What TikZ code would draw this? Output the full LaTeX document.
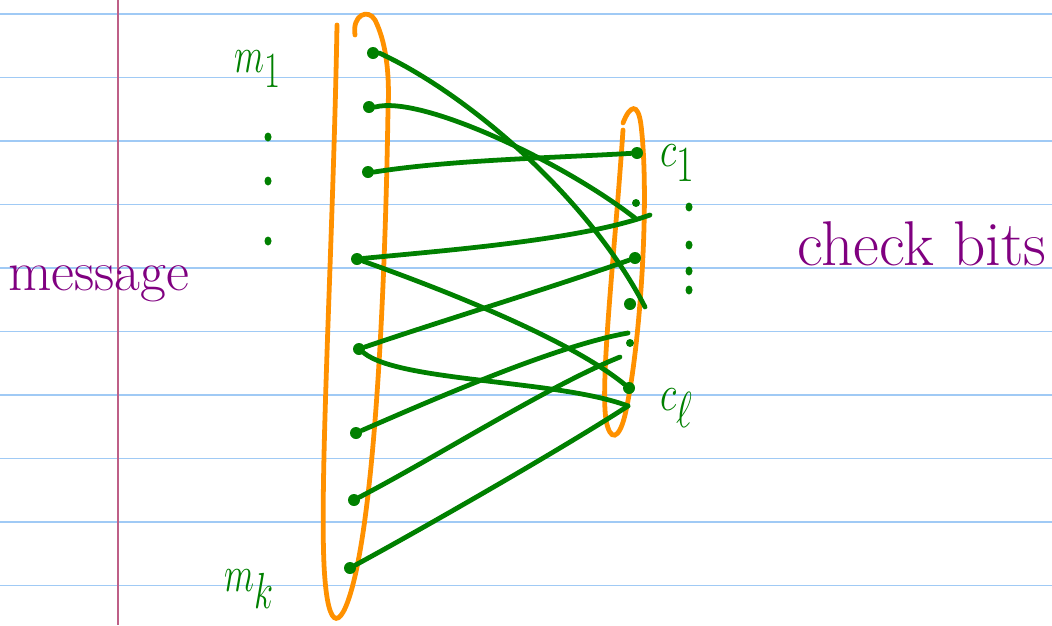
\documentclass[tikz,border=0pt]{standalone}
\usepackage{tikz}
\usetikzlibrary{positioning,calc}
\definecolor{pen}{RGB}{0,128,0}
\definecolor{ringorange}{RGB}{255,145,0}
\definecolor{word}{RGB}{128,0,128}
\definecolor{paperrule}{RGB}{160,202,245}
\definecolor{margin}{RGB}{190,95,135}

\begin{document}
\begin{tikzpicture}[
  x=0.025cm, y=-0.025cm,
  bitdot/.style={circle, fill=pen, inner sep=0pt, minimum size=0.3cm},
  tinydot/.style={circle, fill=pen, inner sep=0pt, minimum size=0.2cm},
  wire/.style={pen, line width=3.4pt, line cap=round},
  ring/.style={ringorange, line width=3.4pt, line cap=round},
  lbl/.style={text=pen, font=\fontsize{40}{44}\selectfont, inner sep=0pt},
  hand/.style={text=word, font=\fontsize{40}{44}\selectfont, inner sep=0pt},
]
\useasboundingbox (0,0) rectangle (1052,625);

% ---- ruled paper ----
\foreach \y in {14,77.5,141,204.5,268,331.5,395,458.5,522,585.5}
  \draw[paperrule, line width=1.3pt] (0,\y) -- (1052,\y);
\draw[margin, line width=1pt] (118,0) -- (118,625);

% ---- the two loops ----
\draw[ring] (337,25) .. controls (333,250) and (318,500) .. (325,580)
  .. controls (330,640) and (345,625) .. (357,567)
  .. controls (375,480) and (385,300) .. (388,110)
  .. controls (390,70) and (385,40) .. (375,20)
  .. controls (368,8) and (352,15) .. (355,35);
\draw[ring] (623,130) .. controls (615,250) and (600,380) .. (606,420)
  .. controls (610,442) and (619,440) .. (625,415)
  .. controls (640,350) and (650,200) .. (641,125)
  .. controls (638,102) and (630,105) .. (623,123);

% ---- message bits ----
\node[bitdot] (m1) at (373,53) {};
\node[bitdot] (m2) at (369,107) {};
\node[bitdot] (m3) at (368,172) {};
\node[bitdot] (m4) at (357,259) {};
\node[bitdot] (m5) at (359,349) {};
\node[bitdot] (m6) at (356,433) {};
\node[bitdot] (m7) at (354,500) {};
\node[bitdot] (m8) at (350,568) {};

% ---- check bits ----
\node[bitdot] (c1) at (637,153) {};
\node[tinydot] (c2) at (636,203) {};
\node[bitdot] (c3) at (635,258) {};
\node[bitdot] (c4) at (630,304) {};
\node[tinydot] (c5) at (630,343) {};
\node[bitdot] (c6) at (629,388) {};
\coordinate (e1) at (645,307);
\coordinate (e2) at (635,218);
\coordinate (e4) at (650,215);
\coordinate (e6) at (628,333);
\coordinate (e7) at (620,357);
\coordinate (e8) at (628,406);

% ---- wires ----
\draw[wire] (m1.east) .. controls (470,95) and (590,200) .. (e1);
\draw[wire] (m2.east) .. controls (420,95) and (560,160) .. (e2);
\draw[wire] (m3.east) .. controls (450,160) and (550,158) .. (c1);
\draw[wire] (m4) .. controls (450,250) and (580,240) .. (e4);
\draw[wire] (m4) .. controls (450,292) and (570,340) .. (c6);
\draw[wire] (m5) .. controls (450,318) and (560,285) .. (c3);
\draw[wire] (m5) .. controls (400,382) and (560,380) .. (e8);
\draw[wire] (m6) .. controls (450,392) and (560,345) .. (e6);
\draw[wire] (m7) .. controls (440,455) and (550,385) .. (e7);
\draw[wire] (m8) .. controls (420,530) and (560,450) .. (e8);

% ---- labels ----
\node[lbl, anchor=base west] (lm1) at (234,72) {\scalebox{1}[1.45]{$m_1$}};
\node[lbl, anchor=base west] (lmk) at (224,591) {\scalebox{1}[1.45]{$m_k$}};
\node[lbl, anchor=base west] (lc1) at (660,166) {\scalebox{1.1}[1.45]{$c_1$}};
\node[lbl, anchor=base west] (lcl) at (660,410) {\scalebox{1.1}[1.45]{$c_\ell$}};
\foreach \y in {137,181,241}
  \fill[pen] (268,\y) ellipse (3.5 and 4.5);
\foreach \y in {207,245,271,290}
  \fill[pen] (689,\y) ellipse (3.5 and 4.5);
\node[hand, anchor=base west] (msg) at (8,290) {message};
\node[hand, anchor=base west, font=\fontsize{45}{48}\selectfont] (chk) at (797,265) {check bits};
\end{tikzpicture}
\end{document}
